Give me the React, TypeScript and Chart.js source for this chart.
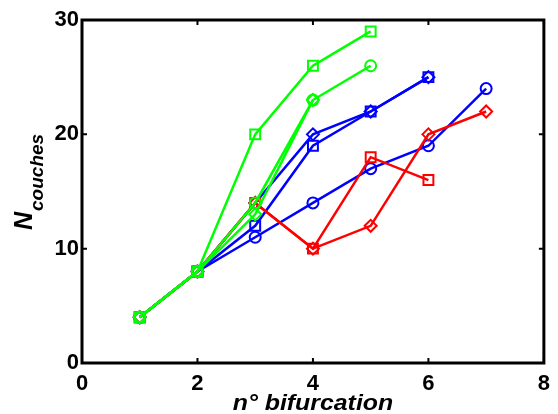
import { useEffect, useRef } from "react";
import { Chart, registerables } from "chart.js";

Chart.register(...registerables);

// Bifurcation index (x) and layer count per series (y)
const bifurcations = [1, 2, 3, 4, 5, 6, 7];

const greenSquare = [4, 8, 20, 26, 29];
const greenCircle = [4, 8, 14, 23, 26];
const greenDiamond = [4, 8, 13, 23];

const redSquare = [4, 8, 14, 10, 18, 16];
const redDiamond = [4, 8, 14, 10, 12, 20, 22];

const blueSquare = [4, 8, 12, 19, 22, 25];
const blueDiamond = [4, 8, 14, 20, 22, 25];
const blueCircle = [4, 8, 11, 14, 17, 19, 24];

const xTicks = [0, 2, 4, 6, 8];
const yTicks = [0, 10, 20, 30];

const FONT = "'Liberation Sans', Arial, sans-serif";

function toPoints(values: number[]) {
  return values.map((v, i) => ({ x: bifurcations[i], y: v }));
}

type Marker = "rect" | "circle" | "rectRot";

function series(values: number[], color: string, marker: Marker, order: number) {
  const radius = marker === "rect" ? 7 : marker === "circle" ? 5.5 : 6;
  return {
    data: toPoints(values),
    showLine: true,
    borderColor: color,
    backgroundColor: "rgba(0,0,0,0)",
    borderWidth: 2.5,
    pointStyle: marker,
    pointRadius: radius,
    pointHoverRadius: radius,
    pointBorderColor: color,
    pointBackgroundColor: "rgba(0,0,0,0)",
    pointBorderWidth: 2,
    tension: 0,
    order,
  };
}

const framePlugin = {
  id: "frame",
  afterDraw(chart: any) {
    const { ctx, chartArea: a, scales } = chart;
    ctx.save();
    ctx.strokeStyle = "#000";
    ctx.lineWidth = 2;
    const tick = 5;
    xTicks.forEach((t) => {
      const px = scales.x.getPixelForValue(t);
      ctx.beginPath();
      ctx.moveTo(px, a.bottom);
      ctx.lineTo(px, a.bottom - tick);
      ctx.moveTo(px, a.top);
      ctx.lineTo(px, a.top + tick);
      ctx.stroke();
    });
    yTicks.forEach((t) => {
      const py = scales.y.getPixelForValue(t);
      ctx.beginPath();
      ctx.moveTo(a.left, py);
      ctx.lineTo(a.left + tick, py);
      ctx.moveTo(a.right, py);
      ctx.lineTo(a.right - tick, py);
      ctx.stroke();
    });
    ctx.lineWidth = 3;
    ctx.strokeRect(a.left, a.top, a.right - a.left, a.bottom - a.top);

    // x-axis title, slightly widened
    ctx.fillStyle = "#000";
    ctx.textAlign = "center";
    ctx.textBaseline = "alphabetic";
    ctx.font = `italic bold 22px ${FONT}`;
    ctx.save();
    ctx.translate((a.left + a.right) / 2, 410);
    ctx.scale(1.13, 1);
    ctx.fillText("n° bifurcation", 0, 0);
    ctx.restore();

    // y-axis title: N with subscript "couches"
    ctx.translate(32, 230);
    ctx.rotate(-Math.PI / 2);
    ctx.textAlign = "left";
    ctx.font = `italic bold 25px ${FONT}`;
    ctx.fillText("N", 0, 0);
    const nw = ctx.measureText("N").width;
    ctx.font = `italic bold 19px ${FONT}`;
    ctx.fillText("couches", nw + 1, 11);
    ctx.restore();
  },
};

export default function App() {
  const canvasRef = useRef<HTMLCanvasElement | null>(null);

  useEffect(() => {
    const canvas = canvasRef.current;
    if (!canvas) return;
    const chart = new Chart(canvas, {
      type: "scatter",
      data: {
        datasets: [
          series(blueSquare, "#0000ff", "rect", 3),
          series(blueDiamond, "#0000ff", "rectRot", 3),
          series(blueCircle, "#0000ff", "circle", 3),
          series(redSquare, "#ff0000", "rect", 2),
          series(redDiamond, "#ff0000", "rectRot", 2),
          series(greenDiamond, "#00ff00", "rectRot", 1),
          series(greenCircle, "#00ff00", "circle", 1),
          series(greenSquare, "#00ff00", "rect", 1),
        ] as any,
      },
      options: {
        animation: false,
        responsive: false,
        devicePixelRatio: 1,
        layout: { padding: { top: 20, right: 9, left: 0, bottom: 0 } },
        plugins: {
          legend: { display: false },
          tooltip: { enabled: false },
        },
        scales: {
          x: {
            type: "linear",
            min: 0,
            max: 8,
            grid: { display: false, drawTicks: false },
            border: { display: false },
            afterBuildTicks: (s: any) => {
              s.ticks = xTicks.map((v) => ({ value: v }));
            },
            afterFit: (s: any) => {
              s.height = 51;
            },
            ticks: {
              color: "#000",
              padding: 8,
              maxRotation: 0,
              font: { family: FONT, size: 22, weight: "bold" },
            },
          },
          y: {
            type: "linear",
            min: 0,
            max: 30,
            grid: { display: false, drawTicks: false },
            border: { display: false },
            afterBuildTicks: (s: any) => {
              s.ticks = yTicks.map((v) => ({ value: v }));
            },
            afterFit: (s: any) => {
              s.width = 82;
            },
            ticks: {
              color: "#000",
              padding: 3,
              font: { family: FONT, size: 22, weight: "bold" },
            },
          },
        },
      },
      plugins: [framePlugin],
    });
    return () => chart.destroy();
  }, []);

  return (
    <div style={{ position: "absolute", left: 0, top: 0, width: 558, height: 414, background: "#fff" }}>
      <canvas ref={canvasRef} width={558} height={414} />
    </div>
  );
}
